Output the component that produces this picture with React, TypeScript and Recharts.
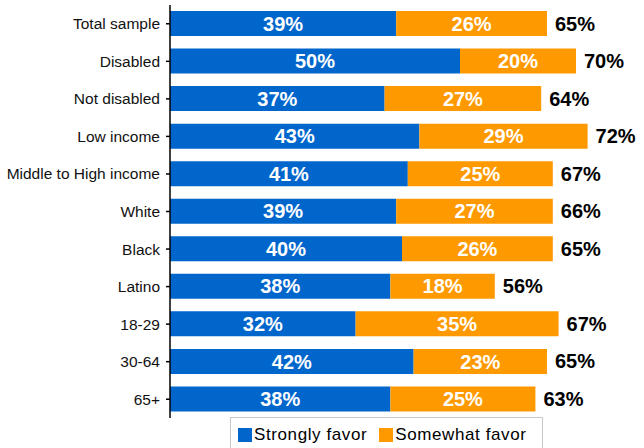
import React from "react";
import { BarChart, Bar, XAxis, YAxis, LabelList } from "recharts";

const categories = [
  "Total sample",
  "Disabled",
  "Not disabled",
  "Low income",
  "Middle to High income",
  "White",
  "Black",
  "Latino",
  "18-29",
  "30-64",
  "65+",
];
const stronglyFavor = [39, 50, 37, 43, 41, 39, 40, 38, 32, 42, 38];
const somewhatFavor = [26, 20, 27, 29, 25, 27, 26, 18, 35, 23, 25];
const totals = [65, 70, 64, 72, 67, 66, 65, 56, 67, 65, 63];
const seriesNames = ["Strongly favor", "Somewhat favor"];
const seriesColors = ["#0066CC", "#FF9900"];

const data = categories.map((c, i) => ({
  name: c,
  strong: stronglyFavor[i],
  somewhat: somewhatFavor[i],
  total: totals[i],
}));

const FONT = "'Liberation Sans', Arial, sans-serif";

const TotalLabel = (props: any) => {
  const { x, y, width, height, index } = props;
  return (
    <text
      x={Number(x) + Number(width) + 8}
      y={Number(y) + Number(height) / 2}
      dominantBaseline="central"
      textAnchor="start"
      fill="#000"
      fontFamily={FONT}
      fontWeight="bold"
      fontSize={20}
    >
      {totals[index] + "%"}
    </text>
  );
};

export default function App() {
  return (
    <div style={{ position: "absolute", left: 0, top: 0, width: 644, height: 448, background: "#fff", overflow: "hidden" }}>
      <BarChart
        width={644}
        height={448}
        data={data}
        layout="vertical"
        margin={{ top: 5, right: 10, bottom: 30, left: 0 }}
        barSize={25}
      >
        <XAxis type="number" domain={[0, 80]} hide />
        <YAxis
          type="category"
          dataKey="name"
          width={170}
          axisLine={{ stroke: "#000", strokeWidth: 1.5 }}
          tickLine={{ stroke: "#000", strokeWidth: 1.5 }}
          tickSize={4}
          tickMargin={6}
          interval={0}
          tick={{ fill: "#111", fontSize: 15.5, fontFamily: FONT }}
        />
        <Bar dataKey="strong" stackId="a" fill={seriesColors[0]} isAnimationActive={false}>
          <LabelList
            dataKey="strong"
            position="center"
            formatter={(v: any) => v + "%"}
            fill="#fff"
            fontFamily={FONT}
            fontWeight="bold"
            fontSize={20}
          />
        </Bar>
        <Bar dataKey="somewhat" stackId="a" fill={seriesColors[1]} isAnimationActive={false}>
          <LabelList
            dataKey="somewhat"
            position="center"
            formatter={(v: any) => v + "%"}
            fill="#fff"
            fontFamily={FONT}
            fontWeight="bold"
            fontSize={20}
          />
          <LabelList dataKey="total" content={TotalLabel} />
        </Bar>
      </BarChart>
      <div
        style={{
          position: "absolute",
          left: 230,
          top: 417,
          width: 313,
          height: 40,
          border: "1px solid #c8c8c8",
          boxSizing: "border-box",
          fontFamily: FONT,
          fontSize: 17,
          color: "#000",
          display: "flex",
          alignItems: "flex-start",
          paddingTop: 8,
          paddingLeft: 7,
        }}
      >
        {seriesNames.map((n, i) => (
          <div key={n} style={{ display: "flex", alignItems: "center", marginRight: 12 }}>
            <div style={{ width: 14, height: 14, background: seriesColors[i], marginRight: 2 }} />
            <span style={{ letterSpacing: 0.6, lineHeight: "18px" }}>{n}</span>
          </div>
        ))}
      </div>
    </div>
  );
}
